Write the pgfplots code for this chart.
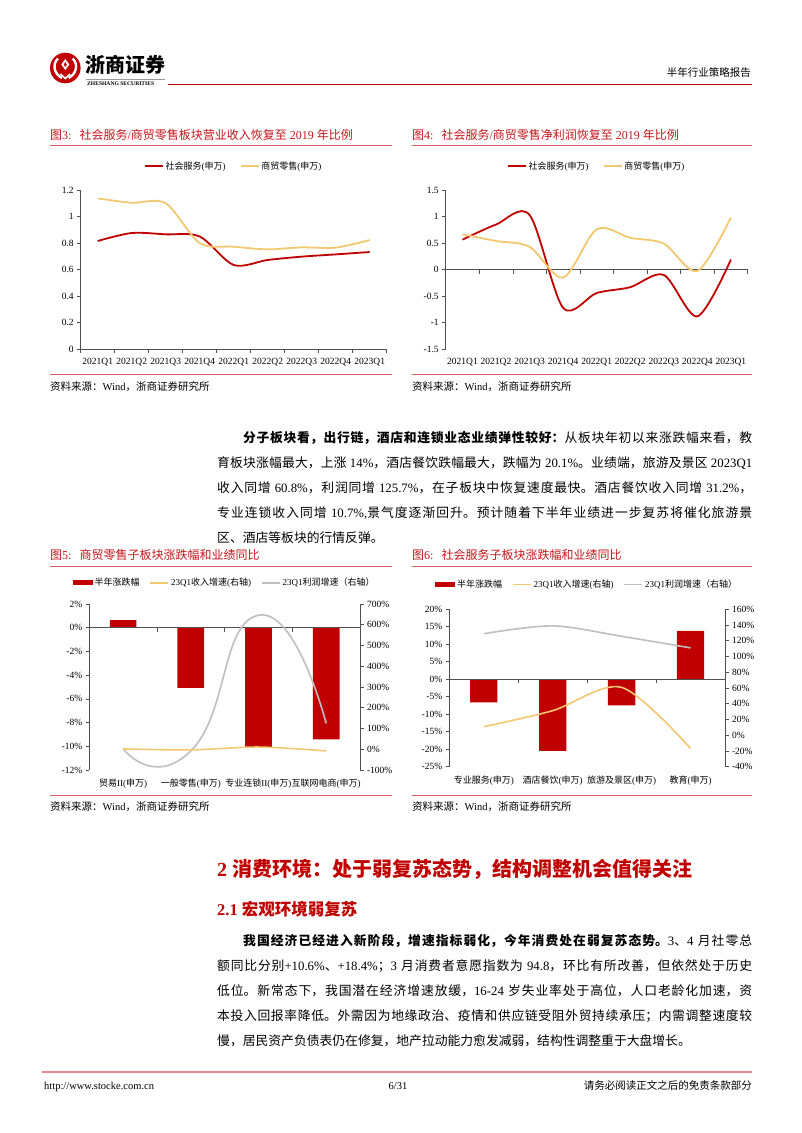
\documentclass[border=0pt]{standalone}
\usepackage{pgfplots}
\pgfplotsset{compat=1.18}
\usepackage{fontspec}
\setmainfont{Liberation Serif}
\newfontfamily\cjkfont{Noto Sans CJK SC}
\XeTeXlinebreaklocale "zh"
\XeTeXlinebreakskip=0pt plus 1.5pt minus 0.2pt
\XeTeXinterchartokenstate=1
\newXeTeXintercharclass\CJKcls
\makeatletter
\newcommand\setcjkrange[2]{\count@=#1\relax
  \loop\XeTeXcharclass\count@=\CJKcls
  \ifnum\count@<#2\relax\advance\count@\@ne\repeat}
\makeatother
\setcjkrange{"2E80}{"9FFF}
\setcjkrange{"FF00}{"FFEF}
\XeTeXinterchartoks 0 \CJKcls = {\begingroup\cjkfont}
\XeTeXinterchartoks 4095 \CJKcls = {\begingroup\cjkfont}
\XeTeXinterchartoks \CJKcls 0 = {\endgroup}
\XeTeXinterchartoks \CJKcls 4095 = {\endgroup}

\definecolor{zsred}{RGB}{192,0,0}
\definecolor{ttlred}{RGB}{196,22,28}
\definecolor{rulered}{RGB}{214,96,100}
\definecolor{footred}{RGB}{226,140,150}
\definecolor{lyel}{RGB}{242,200,112}
\definecolor{lgry}{RGB}{191,191,191}
\definecolor{axc}{RGB}{80,80,80}

\pgfplotsset{
  pg/.style={scale only axis, anchor=south west,
    axis y line*=left, axis x line*=bottom, x axis line style={draw=none},
    xtick=\empty,
    tick align=outside, major tick length=3.5pt,
    axis line style={axc, line width=0.6pt}, tick style={axc, line width=0.6pt},
    tick label style={font=\fontsize{9.5}{10}\selectfont},
    /pgf/number format/assume math mode=true,
    clip=false,
    legend style={draw=none, fill=none, at={(0.5,1)}, anchor=center,
      legend columns=-1, font=\fontsize{9}{10}\selectfont, inner sep=0pt},
    legend image code/.code={\draw[##1] (0pt,0pt) -- (18pt,0pt);},
  },
}

\begin{document}
\begin{tikzpicture}[x=1pt,y=1pt]
\fill[white] (0,0) rectangle (802,-1133);
\useasboundingbox (0,0) rectangle (802,-1133);

% ---------- header ----------
\fill[zsred] (65.3,-68) circle (15.3);
\draw[white, line width=2.4pt] (58,-58.5) .. controls (52,-64) and (54,-74) .. (62,-78);
\draw[white, line width=2.4pt] (72.6,-58.5) .. controls (78.6,-64) and (76.6,-74) .. (68.6,-78);
\fill[white] (65.3,-59) -- (69.3,-64.5) -- (65.3,-70) -- (61.3,-64.5) -- cycle;
\fill[zsred] (65.3,-62) -- (66.8,-64.5) -- (65.3,-67) -- (63.8,-64.5) -- cycle;
\draw[white, line width=1.6pt] (60.5,-74) -- (65.3,-78.5) -- (70.1,-74);
\node[anchor=base west, inner sep=0pt, font=\fontsize{20}{20}\selectfont\bfseries] at (85,-72.6) {浙商证券};
\draw[black!40, line width=0.4pt] (86,-79.5) -- (165,-79.5);
\node[anchor=base west, inner sep=0pt, font=\fontsize{5.6}{6}\selectfont\bfseries] at (87,-85.3) {ZHESHANG SECURITIES};
\draw[zsred, line width=1.5pt] (168,-84.5) -- (752,-84.5);
\node[anchor=base east, inner sep=0pt, font=\fontsize{10.5}{11}\selectfont] at (751,-76) {半年行业策略报告};

% ---------- figure titles / rules / sources ----------
\node[anchor=base west, inner sep=0pt, font=\fontsize{12}{12}\selectfont, text=ttlred] at (50,-139.5) {图3:\hspace{8pt}社会服务/商贸零售板块营业收入恢复至 2019 年比例};
\draw[rulered, line width=0.8pt] (50,-145.5) -- (392,-145.5);
\node[anchor=base west, inner sep=0pt, font=\fontsize{12}{12}\selectfont, text=ttlred] at (412,-139.5) {图4:\hspace{8pt}社会服务/商贸零售净利润恢复至 2019 年比例};
\draw[rulered, line width=0.8pt] (412,-145.5) -- (752,-145.5);
\draw[rulered, line width=0.8pt] (50,-374.5) -- (392,-374.5);
\node[anchor=base west, inner sep=0pt, font=\fontsize{10.5}{11}\selectfont] at (50,-390.5) {资料来源：Wind，浙商证券研究所};
\draw[rulered, line width=0.8pt] (412,-374.5) -- (752,-374.5);
\node[anchor=base west, inner sep=0pt, font=\fontsize{10.5}{11}\selectfont] at (412,-390.5) {资料来源：Wind，浙商证券研究所};

\node[anchor=base west, inner sep=0pt, font=\fontsize{12}{12}\selectfont, text=ttlred] at (50,-559.5) {图5:\hspace{8pt}商贸零售子板块涨跌幅和业绩同比};
\draw[rulered, line width=0.8pt] (50,-566) -- (392,-566);
\node[anchor=base west, inner sep=0pt, font=\fontsize{12}{12}\selectfont, text=ttlred] at (412,-559.5) {图6:\hspace{8pt}社会服务子板块涨跌幅和业绩同比};
\draw[rulered, line width=0.8pt] (412,-566) -- (752,-566);
\draw[rulered, line width=0.8pt] (50,-795) -- (392,-795);
\node[anchor=base west, inner sep=0pt, font=\fontsize{10.5}{11}\selectfont] at (50,-810.5) {资料来源：Wind，浙商证券研究所};
\draw[rulered, line width=0.8pt] (412,-795) -- (752,-795);
\node[anchor=base west, inner sep=0pt, font=\fontsize{10.5}{11}\selectfont] at (412,-810.5) {资料来源：Wind，浙商证券研究所};

% ---------- paragraph 1 ----------
\node[anchor=north west, inner sep=0pt, text width=535pt, align=justify, font=\fontsize{12.8}{25}\selectfont] at (217,-430) {\emergencystretch=20pt\rule{0pt}{12pt}\hspace*{26pt}\textbf{分子板块看，出行链，酒店和连锁业态业绩弹性较好：}从板块年初以来涨跌幅来看，教\linebreak 育板块涨幅最大，上涨 14\%，酒店餐饮跌幅最大，跌幅为 20.1\%。业绩端，旅游及景区 2023Q1\linebreak 收入同增 60.8\%，利润同增 125.7\%，在子板块中恢复速度最快。酒店餐饮收入同增 31.2\%，\linebreak 专业连锁收入同增 10.7\%,景气度逐渐回升。预计随着下半年业绩进一步复苏将催化旅游景\linebreak 区、酒店等板块的行情反弹。};

% ---------- section headings ----------
\node[anchor=base west, inner sep=0pt, font=\fontsize{20}{20}\selectfont\bfseries, text=zsred] at (217,-876.6) {2 消费环境：处于弱复苏态势，结构调整机会值得关注};
\node[anchor=base west, inner sep=0pt, font=\fontsize{16.5}{17}\selectfont\bfseries, text=zsred] at (217,-915.3) {2.1 宏观环境弱复苏};

% ---------- paragraph 2 ----------
\node[anchor=north west, inner sep=0pt, text width=535pt, align=justify, font=\fontsize{12.8}{25}\selectfont] at (217,-933) {\emergencystretch=20pt\rule{0pt}{12pt}\hspace*{26pt}\textbf{我国经济已经进入新阶段，增速指标弱化，今年消费处在弱复苏态势。}3、4 月社零总\linebreak 额同比分别+10.6\%、+18.4\%；3 月消费者意愿指数为 94.8，环比有所改善，但依然处于历史\linebreak 低位。新常态下，我国潜在经济增速放缓，16-24 岁失业率处于高位，人口老龄化加速，资\linebreak 本投入回报率降低。外需因为地缘政治、疫情和供应链受阻外贸持续承压；内需调整速度较\linebreak 慢，居民资产负债表仍在修复，地产拉动能力愈发减弱，结构性调整重于大盘增长。};

% ---------- footer ----------
\draw[footred, line width=1.2pt] (42,-1072) -- (752,-1072);
\node[anchor=base west, inner sep=0pt, font=\fontsize{10.5}{11}\selectfont] at (44,-1089.5) {http://www.stocke.com.cn};
\node[anchor=base, inner sep=0pt, font=\fontsize{10.5}{11}\selectfont] at (398,-1089.5) {6/31};
\node[anchor=base east, inner sep=0pt, font=\fontsize{10.5}{11}\selectfont] at (752,-1089.5) {请务必阅读正文之后的免责条款部分};

% ---------- chart 3 ----------
\begin{axis}[pg, at={(80.7pt,-349.3pt)}, width=306pt, height=159.3pt,
  xmin=-0.5, xmax=8.5, ymin=0, ymax=1.2,
  ytick={0,0.2,0.4,0.6,0.8,1,1.2}, yticklabels={0,0.2,0.4,0.6,0.8,1,1.2},
  extra x ticks={0,1,2,3,4,5,6,7,8},
  extra x tick labels={2021Q1,2021Q2,2021Q3,2021Q4,2022Q1,2022Q2,2022Q3,2022Q4,2023Q1},
  extra x tick style={major tick length=0pt, tick label style={yshift=-5pt}},
  legend style={yshift=24pt, /tikz/every even column/.append style={column sep=12pt}},
]
\draw[axc, line width=0.6pt] (axis cs:-0.5,0) -- (axis cs:8.5,0);
\pgfplotsinvokeforeach{-0.5,0.5,1.5,2.5,3.5,4.5,5.5,6.5,7.5,8.5}{\draw[axc, line width=0.6pt] (axis cs:#1,0) -- ++(0pt,-4pt);}
\addplot[smooth, zsred, line width=1.8pt] coordinates {(0,0.816) (1,0.876) (2,0.866) (3,0.85) (4,0.635) (5,0.673) (6,0.698) (7,0.715) (8,0.733)};
\addlegendentry{社会服务(申万)}
\addplot[smooth, lyel, line width=1.8pt] coordinates {(0,1.137) (1,1.104) (2,1.10) (3,0.80) (4,0.773) (5,0.753) (6,0.768) (7,0.766) (8,0.823)};
\addlegendentry{商贸零售(申万)}
\end{axis}

% ---------- chart 4 ----------
\begin{axis}[pg, at={(445.7pt,-349.3pt)}, width=302pt, height=159.3pt,
  xmin=-0.5, xmax=8.5, ymin=-1.5, ymax=1.5,
  ytick={-1.5,-1,-0.5,0,0.5,1,1.5}, yticklabels={-1.5,-1,-0.5,0,0.5,1,1.5},
  extra x ticks={0,1,2,3,4,5,6,7,8},
  extra x tick labels={2021Q1,2021Q2,2021Q3,2021Q4,2022Q1,2022Q2,2022Q3,2022Q4,2023Q1},
  extra x tick style={major tick length=0pt, tick label style={yshift=-5pt}},
  legend style={yshift=24pt, /tikz/every even column/.append style={column sep=12pt}},
]
\draw[axc, line width=0.6pt] (axis cs:-0.5,0) -- (axis cs:8.5,0);
\pgfplotsinvokeforeach{-0.5,0.5,1.5,2.5,3.5,4.5,5.5,6.5,7.5,8.5}{\draw[axc, line width=0.6pt] (axis cs:#1,0) -- ++(0pt,-4pt);}
\addplot[smooth, zsred, line width=1.8pt] coordinates {(0,0.565) (1,0.85) (2,1.03) (3,-0.72) (4,-0.44) (5,-0.33) (6,-0.10) (7,-0.88) (8,0.19)};
\addlegendentry{社会服务(申万)}
\addplot[smooth, lyel, line width=1.8pt] coordinates {(0,0.665) (1,0.54) (2,0.43) (3,-0.15) (4,0.76) (5,0.60) (6,0.49) (7,-0.025) (8,0.98)};
\addlegendentry{商贸零售(申万)}
\end{axis}

% ---------- chart 5 ----------
\begin{axis}[pg, at={(89.3pt,-770pt)}, width=270.7pt, height=166pt,
  xmin=-0.5, xmax=3.5, ymin=-12, ymax=2,
  ytick={-12,-10,-8,-6,-4,-2,0,2}, yticklabels={-12\%,-10\%,-8\%,-6\%,-4\%,-2\%,0\%,2\%},
  extra x ticks={0,1,2,3},
  extra x tick labels={贸易II(申万),一般零售(申万),专业连锁II(申万),互联网电商(申万)},
  extra x tick style={major tick length=0pt, tick label style={yshift=-5.5pt, font=\fontsize{9}{10}\selectfont}},
  legend style={yshift=21.3pt, /tikz/every even column/.append style={column sep=8pt}},
]
\addplot[ybar, bar width=26.7pt, fill=zsred, draw=none,
  legend image code/.code={\fill[zsred] (0pt,-2.5pt) rectangle (20pt,2.5pt);}]
  coordinates {(0,0.65) (1,-5.07) (2,-10.1) (3,-9.41)};
\addlegendentry{半年涨跌幅}
\addlegendimage{lyel, line width=1.6pt}
\addlegendentry{23Q1收入增速(右轴)}
\addlegendimage{lgry, line width=1.6pt}
\addlegendentry{23Q1利润增速（右轴）}
\draw[axc, line width=0.6pt] (axis cs:-0.5,0) -- (axis cs:3.5,0);
\pgfplotsinvokeforeach{-0.5,0.5,1.5,2.5,3.5}{\draw[axc, line width=0.6pt] (axis cs:#1,0) -- ++(0pt,-4pt);}
\end{axis}
\begin{axis}[pg, at={(89.3pt,-770pt)}, width=270.7pt, height=166pt,
  xmin=-0.5, xmax=3.5, ymin=-100, ymax=700,
  axis y line*=right, hide x axis,
  ytick={-100,0,100,200,300,400,500,600,700},
  yticklabels={-100\%,0\%,100\%,200\%,300\%,400\%,500\%,600\%,700\%},
]
\addplot[smooth, tension=1, lgry, line width=1.6pt] coordinates {(0,2) (1,-8) (2,646) (3,125)};
\addplot[smooth, lyel, line width=1.6pt] coordinates {(0,1.6) (1,-3) (2,10.7) (3,-8)};
\end{axis}

% ---------- chart 6 ----------
\begin{axis}[pg, at={(449.3pt,-766.7pt)}, width=275.7pt, height=157.4pt,
  xmin=-0.5, xmax=3.5, ymin=-25, ymax=20,
  ytick={-25,-20,-15,-10,-5,0,5,10,15,20}, yticklabels={-25\%,-20\%,-15\%,-10\%,-5\%,0\%,5\%,10\%,15\%,20\%},
  extra x ticks={0,1,2,3},
  extra x tick labels={专业服务(申万),酒店餐饮(申万),旅游及景区(申万),教育(申万)},
  extra x tick style={major tick length=0pt, tick label style={yshift=-6pt, font=\fontsize{9}{10}\selectfont}},
  legend style={yshift=25pt, /tikz/every even column/.append style={column sep=8pt}},
]
\addplot[ybar, bar width=27.3pt, fill=zsred, draw=none,
  legend image code/.code={\fill[zsred] (0pt,-2.5pt) rectangle (20pt,2.5pt);}]
  coordinates {(0,-6.58) (1,-20.5) (2,-7.5) (3,13.8)};
\addlegendentry{半年涨跌幅}
\addlegendimage{lyel, line width=1.6pt}
\addlegendentry{23Q1收入增速(右轴)}
\addlegendimage{lgry, line width=1.6pt}
\addlegendentry{23Q1利润增速（右轴）}
\draw[axc, line width=0.6pt] (axis cs:-0.5,0) -- (axis cs:3.5,0);
\pgfplotsinvokeforeach{-0.5,0.5,1.5,2.5,3.5}{\draw[axc, line width=0.6pt] (axis cs:#1,0) -- ++(0pt,-4pt);}
\end{axis}
\begin{axis}[pg, at={(449.3pt,-766.7pt)}, width=275.7pt, height=157.4pt,
  xmin=-0.5, xmax=3.5, ymin=-40, ymax=160,
  axis y line*=right, hide x axis,
  ytick={-40,-20,0,20,40,60,80,100,120,140,160},
  yticklabels={-40\%,-20\%,0\%,20\%,40\%,60\%,80\%,100\%,120\%,140\%,160\%},
]
\addplot[smooth, lgry, line width=1.6pt] coordinates {(0,129) (1,139) (2,125.7) (3,111)};
\addplot[smooth, lyel, line width=1.6pt] coordinates {(0,10.8) (1,31.2) (2,60.8) (3,-16.7)};
\end{axis}
\end{tikzpicture}
\end{document}
